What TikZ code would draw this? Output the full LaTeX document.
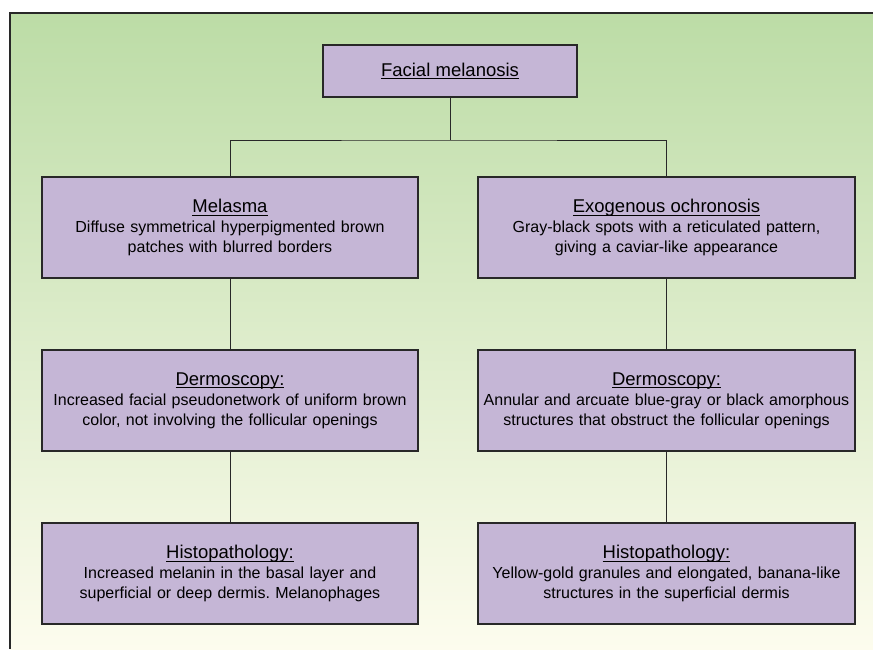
\documentclass[tikz,border=0pt]{standalone}
\usepackage{fontspec}
\setmainfont{Liberation Sans}
\frenchspacing
\definecolor{boxfill}{RGB}{197,182,214}
\definecolor{bgtop}{RGB}{188,220,166}
\definecolor{bgbottom}{RGB}{253,252,238}
\definecolor{edge}{RGB}{40,40,40}
\newcommand{\boxtitle}[1]{{\fontsize{18.5}{20}\selectfont\setbox0\hbox{#1}\rlap{\copy0}\rule[-3.2pt]{\wd0}{1.1pt}}}

\begin{document}
\begin{tikzpicture}[x=1pt,y=-1pt,
	infobox/.style={draw=edge,line width=1.2pt,fill=boxfill,inner sep=0pt,minimum width=376pt,minimum height=101pt,text width=366pt,align=center,font=\fontsize{16}{20}\selectfont},
	link/.style={draw=edge,line width=1pt}]
					\useasboundingbox (0,0) rectangle (873,649);
					\shade[top color=bgtop,bottom color=bgbottom] (10,13) rectangle (873,649);
					\draw[edge,line width=1.5pt] (10,649)--(10,13)--(873,13);

					\node[infobox,minimum width=254pt,minimum height=52pt,text width=244pt] (face) at (450,71) {\boxtitle{Facial melanosis}};

					\node[infobox] (mel) at (230,227.5) {\boxtitle{Melasma}\\Diffuse symmetrical hyperpigmented brown\\patches with blurred borders};
					\node[infobox,minimum width=377pt] (exo) at (666.5,227.5) {\boxtitle{Exogenous ochronosis}\\Gray-black spots with a reticulated pattern,\\giving a caviar-like appearance};

					\node[infobox] (melderm) at (230,400.5) {\boxtitle{Dermoscopy:}\\Increased facial pseudonetwork of uniform brown\\color, not involving the follicular openings};
					\node[infobox,minimum width=377pt] (exoderm) at (666.5,400.5) {\boxtitle{Dermoscopy:}\\Annular and arcuate blue-gray or black amorphous\\structures that obstruct the follicular openings};

					\node[infobox] (melhist) at (230,573.5) {\boxtitle{Histopathology:}\\Increased melanin in the basal layer and\\superficial or deep dermis. Melanophages};
					\node[infobox,minimum width=377pt] (exohist) at (666.5,573.5) {\boxtitle{Histopathology:}\\Yellow-gold granules and elongated, banana-like\\structures in the superficial dermis};

					\coordinate (split) at (450,140);
					\draw[link] (face)--(split);
					\draw[link] (mel.north)|-(split)-|(exo.north);
					\draw[link] (mel)--(melderm);
					\draw[link] (exo)--(exoderm);
					\draw[link] (melderm)--(melhist);
					\draw[link] (exoderm)--(exohist);
\end{tikzpicture}
\end{document}
